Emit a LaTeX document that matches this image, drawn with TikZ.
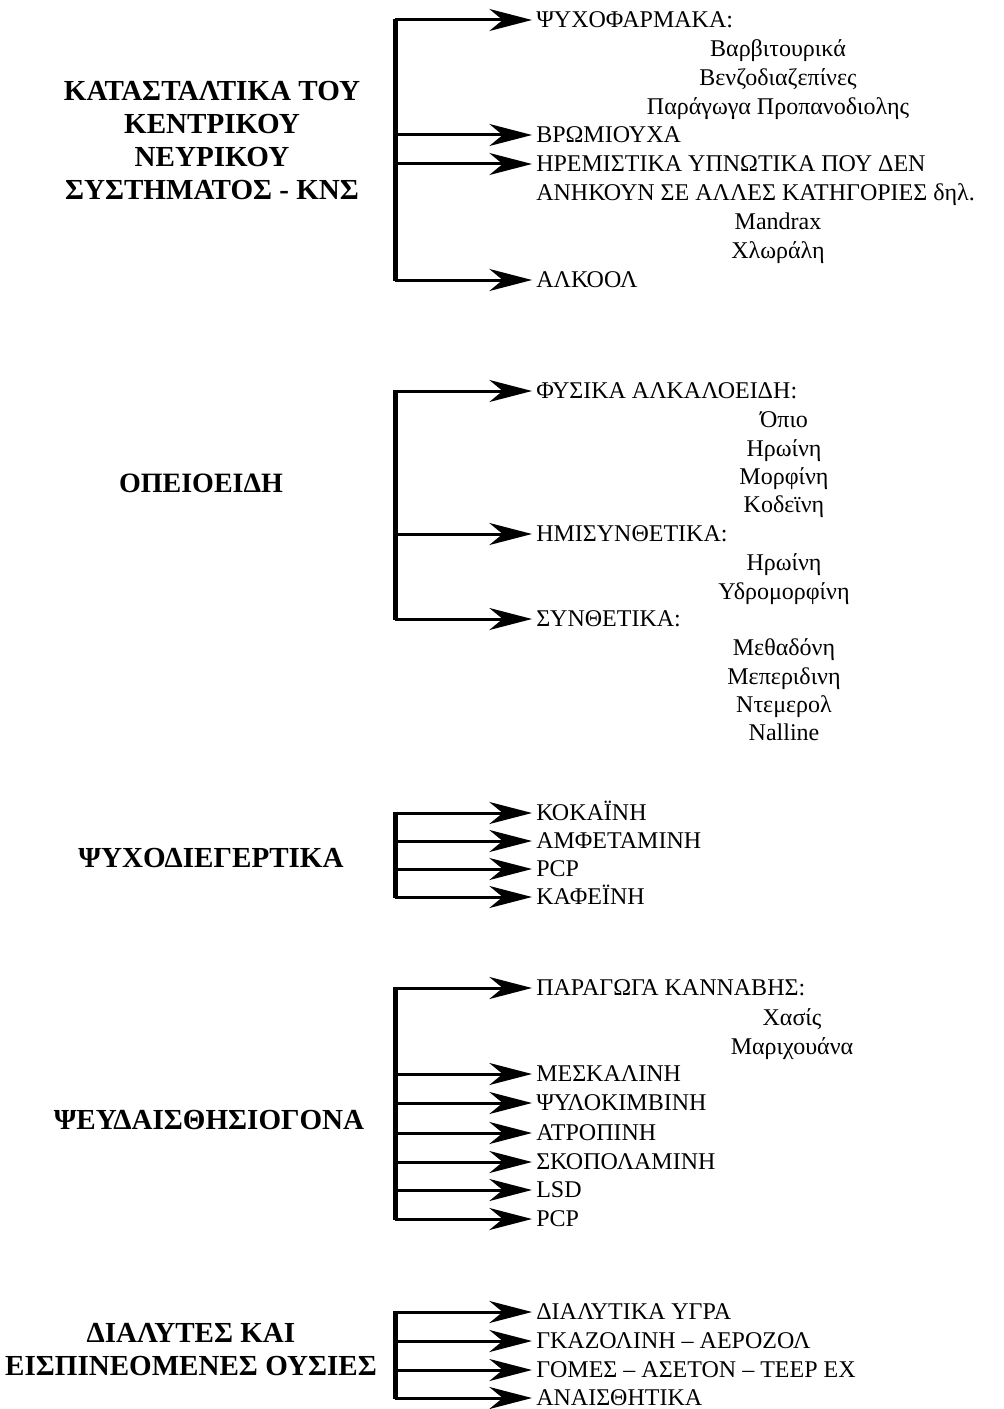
\documentclass[tikz,border=0pt]{standalone}
\usepackage{fontspec}
\setmainfont{Liberation Serif}
\usetikzlibrary{arrows.meta}
\tikzstyle{item} = [anchor=west, inner xsep=3pt, inner ysep=0pt, text height=11.9pt, text depth=0pt, font=\fontsize{18}{21.5}\selectfont]
\tikzstyle{sub} = [inner sep=0pt, text height=11.9pt, text depth=0pt, font=\fontsize{18}{21.5}\selectfont]
\tikzstyle{group} = [align=center, inner sep=0pt, font=\bfseries\fontsize{21.8}{24.75}\selectfont]
\tikzstyle{arrow} = [line width=2.25pt, -{Stealth[length=32pt, width=16.5pt, inset=10pt]}]
\tikzstyle{spine} = [line width=3.75pt, shorten <=-1pt, shorten >=-1pt]

\begin{document}
\begin{tikzpicture}[x=0.75pt, y=-0.75pt]
            \useasboundingbox (0,0) rectangle (1003,1409);

            % CNS depressants
            \node(kns) [group] at (212,141) {ΚΑΤΑΣΤΑΛΤΙΚΑ ΤΟΥ\\ΚΕΝΤΡΙΚΟΥ\\ΝΕΥΡΙΚΟΥ\\ΣΥΣΤΗΜΑΤΟΣ - ΚΝΣ};
            \node(psy) [item] at (532,20) {ΨΥΧΟΦΑΡΜΑΚΑ:};
            \node(psy1) [sub] at (778,49) {Βαρβιτουρικά};
            \node(psy2) [sub] at (778,78) {Βενζοδιαζεπίνες};
            \node(psy3) [sub] at (778,107) {Παράγωγα Προπανοδιολης};
            \node(brom) [item] at (532,135) {ΒΡΩΜΙΟΥΧΑ};
            \node(hrem) [item] at (532,164) {ΗΡΕΜΙΣΤΙΚΑ ΥΠΝΩΤΙΚΑ ΠΟΥ ΔΕΝ};
            \node(hrem2) [item] at (532,193) {ΑΝΗΚΟΥΝ ΣΕ ΑΛΛΕΣ ΚΑΤΗΓΟΡΙΕΣ δηλ.};
            \node(hrem3) [sub] at (778,222) {Mandrax};
            \node(hrem4) [sub] at (778,251) {Χλωράλη};
            \node(alk) [item] at (532,280) {ΑΛΚΟΟΛ};

            \coordinate(s1a) at (395,20);
            \coordinate(s1b) at (395,135);
            \coordinate(s1c) at (395,164);
            \coordinate(s1d) at (395,280);
            \draw[spine] (s1a) -- (s1d);
            \draw[arrow] (s1a) -- (psy.west);
            \draw[arrow] (s1b) -- (brom.west);
            \draw[arrow] (s1c) -- (hrem.west);
            \draw[arrow] (s1d) -- (alk.west);

            % opioids
            \node(opi) [group, font=\bfseries\fontsize{21}{24}\selectfont] at (201,483) {ΟΠΕΙΟΕΙΔΗ};
            \node(fys) [item] at (532,391) {ΦΥΣΙΚΑ ΑΛΚΑΛΟΕΙΔΗ:};
            \node(fys1) [sub] at (784,420) {Όπιο};
            \node(fys2) [sub] at (784,449) {Ηρωίνη};
            \node(fys3) [sub] at (784,477) {Μορφίνη};
            \node(fys4) [sub] at (784,505) {Κοδεϊνη};
            \node(hmi) [item] at (532,534) {ΗΜΙΣΥΝΘΕΤΙΚΑ:};
            \node(hmi1) [sub] at (784,563) {Ηρωίνη};
            \node(hmi2) [sub] at (784,592) {Υδρομορφίνη};
            \node(syn) [item] at (532,619) {ΣΥΝΘΕΤΙΚΑ:};
            \node(syn1) [sub] at (784,648) {Μεθαδόνη};
            \node(syn2) [sub] at (784,677) {Μεπεριδινη};
            \node(syn3) [sub] at (784,705) {Ντεμερολ};
            \node(syn4) [sub] at (784,733) {Nalline};

            \coordinate(s2a) at (395,391);
            \coordinate(s2b) at (395,534);
            \coordinate(s2c) at (395,619);
            \draw[spine] (s2a) -- (s2c);
            \draw[arrow] (s2a) -- (fys.west);
            \draw[arrow] (s2b) -- (hmi.west);
            \draw[arrow] (s2c) -- (syn.west);

            % stimulants
            \node(dieg) [group] at (211,858) {ΨΥΧΟΔΙΕΓΕΡΤΙΚΑ};
            \node(kok) [item] at (532,813) {ΚΟΚΑΪΝΗ};
            \node(amf) [item] at (532,841) {ΑΜΦΕΤΑΜΙΝΗ};
            \node(pcp) [item] at (532,869) {PCP};
            \node(kaf) [item] at (532,897) {ΚΑΦΕΪΝΗ};

            \coordinate(s3a) at (395,813);
            \coordinate(s3b) at (395,841);
            \coordinate(s3c) at (395,869);
            \coordinate(s3d) at (395,897);
            \draw[spine] (s3a) -- (s3d);
            \draw[arrow] (s3a) -- (kok.west);
            \draw[arrow] (s3b) -- (amf.west);
            \draw[arrow] (s3c) -- (pcp.west);
            \draw[arrow] (s3d) -- (kaf.west);

            % hallucinogens
            \node(pseu) [group] at (209,1120) {ΨΕΥΔΑΙΣΘΗΣΙΟΓΟΝΑ};
            \node(kan) [item] at (532,988) {ΠΑΡΑΓΩΓΑ ΚΑΝΝΑΒΗΣ:};
            \node(kan1) [sub] at (792,1018) {Χασίς};
            \node(kan2) [sub] at (792,1047) {Μαριχουάνα};
            \node(mes) [item] at (532,1074) {ΜΕΣΚΑΛΙΝΗ};
            \node(psi) [item] at (532,1103) {ΨΥΛΟΚΙΜΒΙΝΗ};
            \node(atr) [item] at (532,1133) {ΑΤΡΟΠΙΝΗ};
            \node(sko) [item] at (532,1162) {ΣΚΟΠΟΛΑΜΙΝΗ};
            \node(lsd) [item] at (532,1190) {LSD};
            \node(pcp2) [item] at (532,1219) {PCP};

            \coordinate(s4a) at (395,988);
            \coordinate(s4b) at (395,1074);
            \coordinate(s4c) at (395,1103);
            \coordinate(s4d) at (395,1133);
            \coordinate(s4e) at (395,1162);
            \coordinate(s4f) at (395,1190);
            \coordinate(s4g) at (395,1219);
            \draw[spine] (s4a) -- (s4g);
            \draw[arrow] (s4a) -- (kan.west);
            \draw[arrow] (s4b) -- (mes.west);
            \draw[arrow] (s4c) -- (psi.west);
            \draw[arrow] (s4d) -- (atr.west);
            \draw[arrow] (s4e) -- (sko.west);
            \draw[arrow] (s4f) -- (lsd.west);
            \draw[arrow] (s4g) -- (pcp2.west);

            % solvents and inhalants
            \node(dial) [group] at (191,1350) {ΔΙΑΛΥΤΕΣ ΚΑΙ\\ΕΙΣΠΙΝΕΟΜΕΝΕΣ ΟΥΣΙΕΣ};
            \node(ygra) [item] at (532,1312) {ΔΙΑΛΥΤΙΚΑ ΥΓΡΑ};
            \node(gkaz) [item] at (532,1341) {ΓΚΑΖΟΛΙΝΗ – ΑΕΡΟΖΟΛ};
            \node(gom) [item] at (532,1370) {ΓΟΜΕΣ – ΑΣΕΤΟΝ – ΤΕΕΡ ΕΧ};
            \node(anai) [item] at (532,1398) {ΑΝΑΙΣΘΗΤΙΚΑ};

            \coordinate(s5a) at (395,1312);
            \coordinate(s5b) at (395,1341);
            \coordinate(s5c) at (395,1370);
            \coordinate(s5d) at (395,1398);
            \draw[spine] (s5a) -- (s5d);
            \draw[arrow] (s5a) -- (ygra.west);
            \draw[arrow] (s5b) -- (gkaz.west);
            \draw[arrow] (s5c) -- (gom.west);
            \draw[arrow] (s5d) -- (anai.west);
        \end{tikzpicture}
\end{document}
